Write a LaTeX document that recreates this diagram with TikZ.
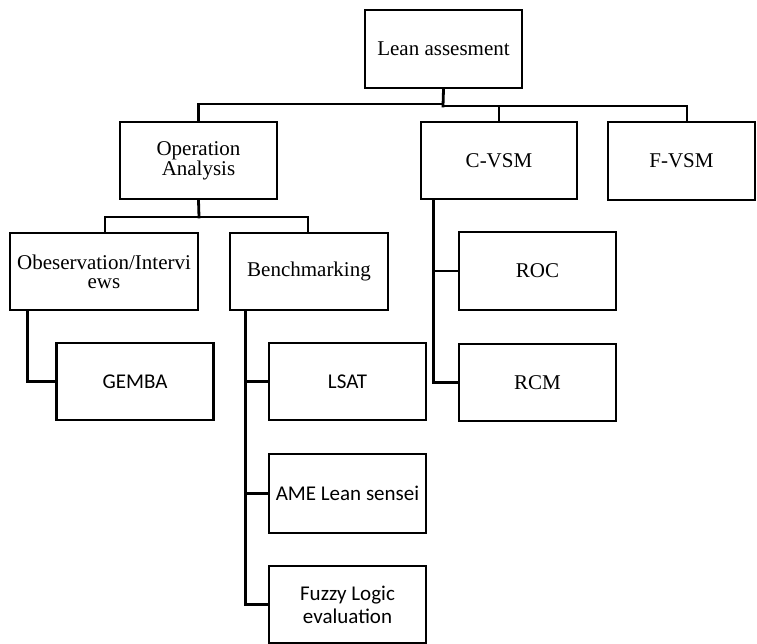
\documentclass[tikz,border=0pt]{standalone}
\usepackage{fontspec}
\setmainfont{Liberation Serif}
\newfontfamily\calfont{Carlito}
\begin{document}
\begin{tikzpicture}[x=1pt,y=-1pt,
  box/.style={draw=black,line width=2.8pt,minimum width=#1,minimum height=77pt,
    inner sep=0pt,align=center,font=\fontsize{21}{19}\selectfont},
  box/.default=157pt,
  sbox/.style={box=157pt,font=\calfont\fontsize{21}{23}\selectfont},
  link/.style={line width=2.8pt,line cap=rect}]
\useasboundingbox (0,0) rectangle (757,644);

% top level
\node[box, minimum height=78pt] (lean) at (443.5,49) {Lean assesment};

% second level
\node[box] (op)   at (198.5,160.5) {\rule{0pt}{6pt}Operation\\Analysis};
\node[box=156pt] (cvsm) at (499,160.5) {C-VSM};
\node[box=147pt, minimum height=78pt] (fvsm) at (681.5,161) {F-VSM};

% third level
\node[box=188pt] (obs)   at (104,271.5) {Obeservation/Intervi\\ews};
\node[box=158pt] (bench) at (309,271.5) {Benchmarking};
\node[box, minimum height=78pt] (roc) at (537.5,271) {ROC};
\node[box] (rcm) at (537.5,382.5) {RCM};

% leaves
\node[sbox] (gemba) at (135,381.5) {GEMBA};
\node[sbox] (lsat)  at (347.5,381.5) {LSAT};
\node[sbox, minimum height=79pt] (ame) at (347.5,493.5) {AME Lean sensei};
\node[sbox] (fuzzy) at (347.5,604.5) {Fuzzy Logic\\evaluation};

% bus under the root (the two halves sit a hair apart)
\coordinate (busL) at (443,104);
\coordinate (busR) at (443,106);
\draw[link] (lean.south) -- (busR);
\draw[link] (busL) -| (op.north);
\draw[link] (busR) -| (cvsm.north);
\draw[link] (busR) -| ([xshift=5.5pt]fvsm.north);

% operation analysis branch
\coordinate (opbus) at (199,217);
\draw[link] (op.south) -- (opbus);
\draw[link] (opbus) -| ([xshift=1pt]obs.north);
\draw[link] (opbus) -| ([xshift=-1pt]bench.north);

% side stems
\draw[link] ([xshift=19pt]obs.south west) |- (gemba.west);
\draw[link] ([xshift=17pt]bench.south west) |- (lsat.west);
\draw[link] ([xshift=17pt]bench.south west) |- (ame.west);
\draw[link] ([xshift=17pt]bench.south west) |- (fuzzy.west);
\draw[link] ([xshift=14pt]cvsm.south west) |- (roc.west);
\draw[link] ([xshift=14pt]cvsm.south west) |- (rcm.west);
\end{tikzpicture}
\end{document}
